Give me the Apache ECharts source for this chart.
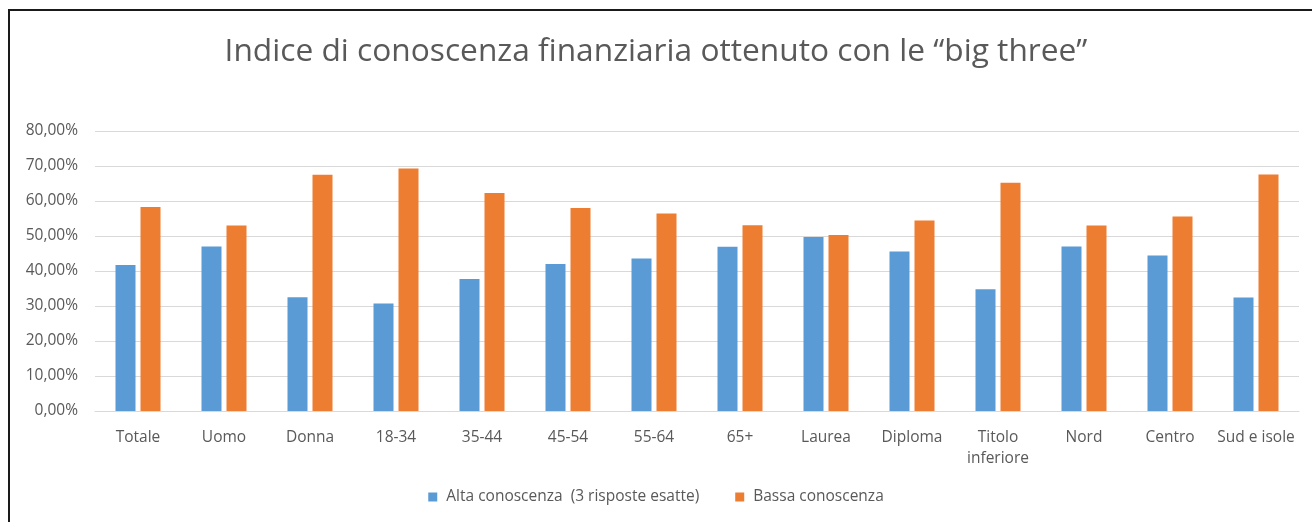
<!DOCTYPE html>
<html>
<head>
<meta charset="utf-8">
<script src="https://cdn.jsdelivr.net/npm/echarts@6/dist/echarts.min.js"></script>
<style>
  html, body { margin: 0; padding: 0; background: #fff; }
  #main { width: 1312px; height: 522px; }
  #frame {
    position: absolute; left: 8px; top: 9px; width: 1304px; height: 513px;
    border-top: 2px solid #1a1a1a; border-left: 2px solid #1a1a1a;
    box-sizing: border-box; pointer-events: none;
  }
</style>
</head>
<body>
<div id="main"></div>
<div id="frame"></div>
<script>
// categorie e valori (percentuali)
const categories = ['Totale', 'Uomo', 'Donna', '18-34', '35-44', '45-54', '55-64', '65+',
  'Laurea', 'Diploma', 'Titolo\ninferiore', 'Nord', 'Centro', 'Sud e isole'];
const alta = [41.7, 47.0, 32.5, 30.7, 37.7, 42.0, 43.6, 46.9, 49.7, 45.6, 34.8, 47.0, 44.4, 32.4];
const bassa = [58.3, 53.0, 67.5, 69.3, 62.3, 58.0, 56.4, 53.1, 50.3, 54.4, 65.2, 53.0, 55.6, 67.6];
const seriesNames = ['Alta conoscenza  (3 risposte esatte)', 'Bassa conoscenza'];

const font = 'Open Sans';
const chart = echarts.init(document.getElementById('main'));

const option = {
  backgroundColor: '#fff',
  color: ['#5B9BD5', '#ED7D31'],
  animation: false,
  title: {
    text: 'Indice di conoscenza finanziaria ottenuto con le \u201cbig three\u201d',
    left: 'center',
    top: 31,
    textStyle: {
      fontFamily: font,
      fontWeight: 'normal',
      fontSize: 31.7,
      color: '#595959'
    }
  },
  legend: {
    bottom: 12,
    left: 'center',
    icon: 'rect',
    itemWidth: 9,
    itemHeight: 9,
    itemGap: 36,
    textStyle: { fontFamily: font, fontSize: 15.5, color: '#595959', padding: [0, 0, 0, 4] },
    data: seriesNames
  },
  grid: {
    left: 95,
    right: 13,
    top: 131,
    bottom: 111,
    containLabel: false
  },
  xAxis: {
    type: 'category',
    data: categories,
    axisTick: { show: false },
    axisLine: { lineStyle: { color: '#D9D9D9', width: 1 } },
    axisLabel: {
      interval: 0,
      margin: 16,
      lineHeight: 21,
      fontFamily: font,
      fontSize: 15.5,
      color: '#595959'
    }
  },
  yAxis: {
    type: 'value',
    min: 0,
    max: 80,
    interval: 10,
    axisLine: { show: false },
    axisTick: { show: false },
    splitLine: { lineStyle: { color: '#D9D9D9', width: 1 } },
    axisLabel: {
      margin: 17,
      fontFamily: font,
      fontSize: 15.5,
      color: '#595959',
      formatter: function (v) {
        return v.toFixed(2).replace('.', ',') + '%';
      }
    }
  },
  series: [{
    name: seriesNames[0],
    type: 'bar',
    barWidth: 20,
    barGap: '25%',
    data: alta
  }, {
    name: seriesNames[1],
    type: 'bar',
    barWidth: 20,
    barGap: '25%',
    data: bassa
  }]
};
chart.setOption(option);
</script>
</body>
</html>
